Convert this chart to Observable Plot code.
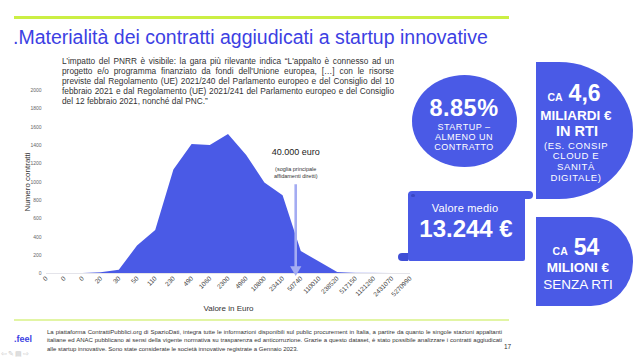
<!DOCTYPE html>
<html><head><meta charset="utf-8">
<script src="https://cdn.jsdelivr.net/npm/d3@7"></script>
<script src="https://cdn.jsdelivr.net/npm/@observablehq/plot@0.6"></script>
<style>
html,body{margin:0;padding:0;background:#fff;}
body{width:640px;height:360px;position:relative;overflow:hidden;font-family:"Liberation Sans",Arial,sans-serif;}
.abs{position:absolute;}
#topline{left:14px;top:16px;width:495px;height:3px;background:#cbef44;}
#botline{left:14px;top:319px;width:495px;height:2px;background:#e2f5a4;}
#title{left:13px;top:27.5px;font-size:19.5px;line-height:19.5px;color:#3d3fe3;white-space:nowrap;}
#intro{left:62px;top:57.2px;width:332px;font-size:8.3px;line-height:9.9px;color:#333;text-align:justify;}
#chart{left:0;top:80px;}
#footer{left:47px;top:327.6px;width:455px;font-size:6px;line-height:8.5px;color:#333;text-align:justify;}
.shape{position:absolute;background:#4a5ae6;}
.t{position:absolute;color:#fff;text-align:center;white-space:nowrap;transform:translateX(-50%);}
g[aria-label="y-axis tick label"]{font-size:5px;fill:#666;}
g[aria-label="x-axis tick label"]{font-size:6.5px;fill:#444;}
</style></head>
<body>
<div id="topline" class="abs"></div>
<div id="title" class="abs">.Materialità dei contratti aggiudicati a startup innovative</div>
<div id="chart" class="abs"></div>
<div id="intro" class="abs">L’impatto del PNRR è visibile: la gara più rilevante indica “L'appalto è connesso ad un progetto e/o programma finanziato da fondi dell'Unione europea, […] con le risorse previste dal Regolamento (UE) 2021/240 del Parlamento europeo e del Consiglio del 10 febbraio 2021 e dal Regolamento (UE) 2021/241 del Parlamento europeo e del Consiglio del 12 febbraio 2021, nonché dal PNC.”</div>

<div class="shape" style="left:412px;top:75px;width:105px;height:92px;border-radius:50%;"></div>
<div class="shape" style="left:536px;top:62px;width:97px;height:137px;border-radius:0 74px 74px 0 / 0 68px 68px 0;"></div>
<div class="shape" style="left:536px;top:217px;width:97px;height:89px;border-radius:0 42px 42px 0 / 0 44px 44px 0;"></div>
<div class="shape" style="left:408px;top:194px;width:117px;height:67px;border-radius:0 0 2px 2px;"></div>
<div class="shape" style="left:408px;top:191px;width:125px;height:8px;border-radius:4px;"></div>
<div class="shape" style="left:398px;top:253px;width:10px;height:8px;border-radius:4px 0 0 4px;background:#3f4ed6;"></div>
<div class="shape" style="left:411px;top:194px;width:4px;height:3px;border-radius:2px;background:#3a47c4;"></div>

<div id="labels"></div>

<div id="botline" class="abs"></div>
<div class="abs" style="left:14px;top:335px;font-size:9px;font-weight:bold;color:#3d3fe3;line-height:9px;">.feel</div>
<div id="footer" class="abs">La piattaforma ContrattiPubblici.org di SpazioDati, integra tutte le informazioni disponibili sul public procurement in Italia, a partire da quanto le singole stazioni appaltanti italiane ed ANAC pubblicano ai sensi della vigente normativa su trasparenza ed anticorruzione. Grazie a questo dataset, è stato possibile analizzare i contratti aggiudicati alle startup innovative. Sono state considerate le società innovative registrate a Gennaio 2023.</div>
<div class="abs" style="left:504px;top:344.2px;font-size:6.5px;line-height:6.5px;color:#333;">17</div>
<div class="abs" style="left:1px;top:350px;font-size:7px;line-height:7px;color:#c8c8c8;letter-spacing:1px;">⇦✎▤⇨</div>

<script>
// ---- data ----
const binLabels = ["0","0","0","20","30","50","110","230","490","1060","2300","4960","10800","23410","50740","110010","238520","517150","1121260","2431070","5270990"];
const counts = [0,0,0,8,35,300,470,1130,1410,1400,1520,1290,990,850,240,125,10,4,2,1,0];
const yTicks = [0,200,400,600,800,1000,1200,1400,1600,1800,2000];
const thresholdValues = [40000];
const thresholdLabels = ["40.000 euro"];
const thresholdNotes = ["(soglia principale\naffidamenti diretti)"];
const thresholdArrowTop = [970];
const xTitle = "Valore in Euro";
const yTitle = "Numero contratti";
const areaColor = "#4a5ae6";

// position of a euro value along the bin axis (log interpolation between bin labels)
function binPosition(v) {
  const nums = binLabels.map(Number);
  for (let i = 0; i < nums.length - 1; i++) {
    if (nums[i] > 0 && v >= nums[i] && v < nums[i + 1]) {
      return i + Math.log(v / nums[i]) / Math.log(nums[i + 1] / nums[i]);
    }
  }
  return nums.length - 1;
}

const bins = binLabels.map((label, i) => ({i, label, count: counts[i]}));
const notes = thresholdValues.map((v, k) => ({
  pos: binPosition(v), label: thresholdLabels[k], note: thresholdNotes[k], top: thresholdArrowTop[k]
}));

const chart = Plot.plot({
  width: 430, height: 235,
  marginLeft: 46, marginRight: 20, marginTop: 10, marginBottom: 42,
  style: {fontFamily: "Liberation Sans, Arial, sans-serif", background: "transparent", overflow: "visible"},
  x: {type: "linear", domain: [0, binLabels.length - 1]},
  y: {domain: [0, 2000]},
  marks: [
    Plot.ruleY([0], {stroke: "#e4e4ea", strokeWidth: 1}),
    Plot.areaY(bins, {x: "i", y: "count", fill: "url(#areaFade)"}),
    Plot.axisY({ticks: yTicks, tickFormat: d => String(d), tickSize: 0, tickPadding: 5, label: null}),
    Plot.axisX({ticks: bins.map(d => d.i), tickFormat: i => binLabels[i], tickRotate: -45, tickSize: 0, tickPadding: 4, label: null}),
    Plot.text([yTitle], {frameAnchor: "left", rotate: -90, dx: -19, textAnchor: "middle", lineAnchor: "middle", fontSize: 8, fill: "#333"}),
    Plot.text([xTitle], {frameAnchor: "bottom", dy: 35, textAnchor: "middle", lineAnchor: "middle", fontSize: 8, fill: "#333"}),
    Plot.ruleX(notes, {x: "pos", y1: "top", y2: 40, stroke: "#a4acf2", strokeWidth: 2.6}),
    Plot.dot(notes, {x: "pos", y: 0, symbol: "triangle", rotate: 180, r: 4.2, fill: "#a4acf2", stroke: "none", dy: -4}),
    Plot.text(notes, {x: "pos", text: "label", frameAnchor: "top", dy: 62, lineAnchor: "middle", fontSize: 9, fill: "#222"}),
    Plot.text(notes, {x: "pos", text: "note", frameAnchor: "top", dy: 81.5, lineAnchor: "middle", fontSize: 5.5, lineHeight: 1.25, fill: "#333"})
  ]
});
const defs = d3.select(chart).insert("defs", ":first-child");
const grad = defs.append("linearGradient").attr("id", "areaFade").attr("x1", 0).attr("x2", 1).attr("y1", 0).attr("y2", 0);
grad.append("stop").attr("offset", 0).attr("stop-color", areaColor);
grad.append("stop").attr("offset", 0.79).attr("stop-color", areaColor);
grad.append("stop").attr("offset", 1).attr("stop-color", areaColor).attr("stop-opacity", 0.12);
document.getElementById("chart").appendChild(chart);

// ---- infographic texts ----
const labelsDiv = document.getElementById("labels");
function line(cx, baseline, size, html, extra) {
  const d = document.createElement("div");
  d.className = "t";
  d.style.left = cx + "px";
  d.style.top = (baseline - 0.8465 * size) + "px";
  d.style.fontSize = size + "px";
  d.style.lineHeight = size + "px";
  if (extra) Object.assign(d.style, extra);
  d.innerHTML = html;
  labelsDiv.appendChild(d);
}
const B = {fontWeight: "bold"};
line(464, 116.5, 23.5, "8.85%", {fontWeight: "bold", letterSpacing: "0.5px"});
line(464, 130.5, 9, "STARTUP –", {letterSpacing: "0.5px"});
line(464, 140.7, 9, "ALMENO UN", {letterSpacing: "0.5px"});
line(464, 150.7, 9, "CONTRATTO", {letterSpacing: "0.5px"});

line(574, 101.5, 23, '<span style="font-size:10.5px">CA</span><span style="display:inline-block;width:6px"></span>4,6', B);
line(576, 120.7, 13.5, "MILIARDI €", B);
line(577, 136, 14.5, "IN RTI", B);
line(576, 149, 9.5, "(ES. CONSIP", {letterSpacing: "0.6px"});
line(576, 159.5, 9.5, "CLOUD E", {letterSpacing: "0.6px"});
line(576, 170.5, 9.5, "SANITÀ", {letterSpacing: "0.6px"});
line(576, 181, 9.5, "DIGITALE)", {letterSpacing: "0.6px"});

line(465, 212, 11, "Valore medio", {letterSpacing: "0.2px"});
line(466, 237.3, 24, "13.244 €", B);

line(576, 255, 23, '<span style="font-size:10.5px">CA</span><span style="display:inline-block;width:6px"></span>54', B);
line(578, 272.7, 13.5, "MILIONI €", B);
line(578, 289.3, 13.5, "SENZA RTI");
</script>
</body></html>
